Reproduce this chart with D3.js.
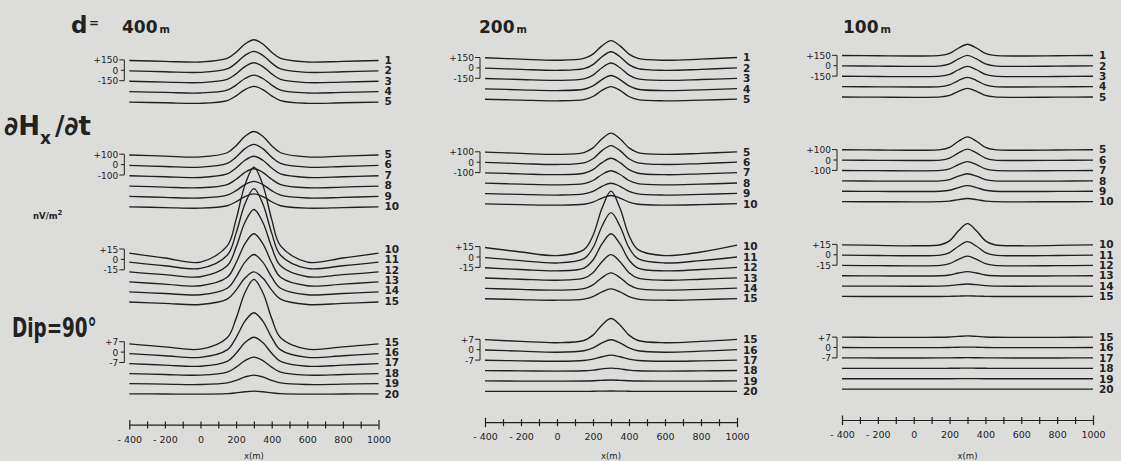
<!DOCTYPE html>
<html><head><meta charset="utf-8">
<script src="https://cdn.jsdelivr.net/npm/d3@7"></script>
<style>
html,body{margin:0;padding:0;background:#dcddda;}
svg{display:block;}
text{font-family:"DejaVu Sans","Liberation Sans",sans-serif;fill:#222;}
</style></head><body>
<svg id="chart" width="1121" height="461"></svg>
<script>
// ---------------- DATA ----------------
const xPositions = [-400, -200, 0, 150, 200, 250, 300, 350, 400, 450, 600, 800, 1000];
const panelDepths = ["400", "200", "100"];
const groupUnits = [150, 100, 15, 7];
const groupScaleLabels = [["+150", "0", "-150"], ["+100", "0", "-100"], ["+15", "0", "-15"], ["+7", "0", "-7"]];
const groupTraceNumbers = [[1, 2, 3, 4, 5], [5, 6, 7, 8, 9, 10], [10, 11, 12, 13, 14, 15], [15, 16, 17, 18, 19, 20]];
const xTickValues = [-400, -300, -200, -100, 0, 100, 200, 300, 400, 500, 600, 700, 800, 900, 1000];
const xTickLabels = [-400, -200, 0, 200, 400, 600, 800, 1000];

// dHx/dt (nV/m^2) for channels 1..20, sampled at xPositions
const traces400 = [
  [-9, -21, -30, 21, 110, 229, 290, 229, 110, 21, -30, -21, -9],
  [-9, -21, -30, 19, 103, 216, 274, 216, 103, 19, -30, -21, -9],
  [-8, -20, -28, 18, 98, 204, 259, 204, 98, 18, -28, -20, -8],
  [-8, -19, -27, 15, 87, 182, 231, 182, 87, 15, -27, -19, -8],
  [-8, -18, -26, 14, 82, 172, 218, 172, 82, 14, -26, -18, -8],
  [-8, -18, -25, 11, 72, 154, 195, 154, 72, 11, -25, -18, -8],
  [-7, -17, -24, 10, 67, 142, 180, 142, 67, 10, -24, -17, -7],
  [-7, -16, -23, 8, 59, 126, 160, 126, 59, 8, -23, -16, -7],
  [-6, -15, -21, 6, 50, 108, 138, 108, 50, 6, -21, -15, -6],
  [-6, -13, -19, 4.5, 42.7, 92.5, 118, 92.5, 42.7, 4.5, -19, -13, -6],
  [-3.9, -9.1, -13, 6, 37.9, 80.3, 102, 80.3, 37.9, 6, -13, -9.1, -3.9],
  [-3, -7, -10, 5.7, 32.7, 68.6, 87, 68.6, 32.7, 5.7, -10, -7, -3],
  [-2.4, -5.6, -8, 4.2, 25.1, 52.8, 67, 52.8, 25.1, 4.2, -8, -5.6, -2.4],
  [-1.8, -4.2, -6, 3.4, 19.5, 41, 52, 41, 19.5, 3.4, -6, -4.2, -1.8],
  [-1.5, -3.5, -5, 2.7, 15.7, 33.1, 42, 33.1, 15.7, 2.7, -5, -3.5, -1.5],
  [-1.05, -2.45, -3.5, 1.5, 9.8, 20.9, 26.5, 20.9, 9.8, 1.5, -3.5, -2.45, -1.05],
  [-0.75, -1.75, -2.5, 0.8, 6.2, 13.4, 17, 13.4, 6.2, 0.8, -2.5, -1.75, -0.75],
  [-0.45, -1.05, -1.5, 0.5, 3.9, 8.3, 10.6, 8.3, 3.9, 0.5, -1.5, -1.05, -0.45],
  [-0.24, -0.56, -0.8, 0.26, 2.0, 4.3, 5.5, 4.3, 2.0, 0.26, -0.8, -0.56, -0.24],
  [-0.09, -0.21, -0.3, 0.05, 0.6, 1.33, 1.7, 1.33, 0.6, 0.05, -0.3, -0.21, -0.09]
];
const traces200 = [
  [-4, -24, -40, -13, 49, 168, 243, 168, 49, -13, -40, -24, 0],
  [-3.5, -21, -35, -11, 48, 161, 233, 161, 48, -11, -35, -21, 0],
  [-3, -18, -30, -8, 46, 153, 220, 153, 46, -8, -30, -18, 0],
  [-2.7, -16, -27, -8, 40, 132, 191, 132, 40, -8, -27, -16, 0],
  [-2.5, -15, -25, -7, 37.5, 125, 180, 125, 37.5, -7, -25, -15, 0],
  [-2.2, -13, -22, -6, 33, 111, 160, 111, 33, -6, -22, -13, 0],
  [-2, -12, -20, -6, 28.5, 95.6, 138, 95.6, 28.5, -6, -20, -12, 0],
  [-1.8, -11, -18, -5.6, 24, 81.6, 118, 81.6, 24, -5.6, -18, -11, 0],
  [-1.6, -9.6, -16, -5.3, 19.7, 67.7, 98, 67.7, 19.7, -5.3, -16, -9.6, 0],
  [-1.3, -7.8, -13, -4.3, 16.1, 55.3, 80, 55.3, 16.1, -4.3, -13, -7.8, 2],
  [-0.9, -5.2, -8.6, -2.4, 13.4, 44.4, 64, 44.4, 13.4, -2.4, -8.6, -5.2, 0],
  [-0.5, -3, -5, -0.9, 10.7, 33.9, 48.6, 33.9, 10.7, -0.9, -5, -3, 0],
  [-0.35, -2.1, -3.5, -0.6, 7.3, 23.3, 33.4, 23.3, 7.3, -0.6, -3.5, -2.1, 0],
  [-0.28, -1.7, -2.8, -0.7, 4.7, 15.3, 22, 15.3, 4.7, -0.7, -2.8, -1.7, 0],
  [-0.23, -1.4, -2.3, -0.8, 2.8, 9.7, 14, 9.7, 2.8, -0.8, -2.3, -1.4, 0],
  [-0.17, -1, -1.7, -0.7, 1.2, 4.6, 6.7, 4.6, 1.2, -0.7, -1.7, -1, 0],
  [-0.08, -0.5, -0.8, -0.3, 0.6, 2.25, 3.3, 2.25, 0.6, -0.3, -0.8, -0.5, 0],
  [-0.04, -0.24, -0.4, -0.17, 0.28, 1.1, 1.6, 1.1, 0.28, -0.17, -0.4, -0.24, 0],
  [-0.02, -0.12, -0.2, -0.1, 0.09, 0.4, 0.6, 0.4, 0.09, -0.1, -0.2, -0.12, 0],
  [-0.01, -0.06, -0.1, -0.05, 0.02, 0.13, 0.2, 0.13, 0.02, -0.05, -0.1, -0.06, 0]
];
const traces100 = [
  [-3, -7, -10, -2, 27, 105, 160, 105, 27, -2, -10, -7, -3],
  [-2.7, -6.3, -9, -1.8, 25.8, 98, 150, 98, 25.8, -1.8, -9, -6.3, -2.7],
  [-2.4, -5.6, -8, -1.4, 24.2, 91.6, 140, 91.6, 24.2, -1.4, -8, -5.6, -2.4],
  [-2.1, -4.9, -7, -1, 23, 86.4, 132, 86.4, 23, -1, -7, -4.9, -2.1],
  [-1.8, -4.2, -6, -0.7, 21.4, 79.9, 122, 79.9, 21.4, -0.7, -6, -4.2, -1.8],
  [-1.5, -3.5, -5, -0.5, 18.5, 68.8, 105, 68.8, 18.5, -0.5, -5, -3.5, -1.5],
  [-1.2, -2.8, -4, -0.4, 15, 55.7, 85, 55.7, 15, -0.4, -4, -2.8, -1.2],
  [-1.05, -2.45, -3.5, -0.5, 11.9, 44.5, 68, 44.5, 11.9, -0.5, -3.5, -2.45, -1.05],
  [-0.9, -2.1, -3, -0.5, 9.4, 35.3, 54, 35.3, 9.4, -0.5, -3, -2.1, -0.9],
  [-0.6, -1.4, -2, -0.5, 5.1, 19.6, 30, 19.6, 5.1, -0.5, -2, -1.4, -0.6],
  [-0.42, -1, -1.4, -0.4, 3.2, 12.4, 19, 12.4, 3.2, -0.4, -1.4, -1, -0.42],
  [-0.3, -0.7, -1, -0.3, 2.2, 8.5, 13, 8.5, 2.2, -0.3, -1, -0.7, -0.3],
  [-0.18, -0.42, -0.6, -0.2, 0.9, 3.7, 5.7, 3.7, 0.9, -0.2, -0.6, -0.42, -0.18],
  [-0.09, -0.21, -0.3, -0.1, 0.46, 1.9, 2.9, 1.9, 0.46, -0.1, -0.3, -0.21, -0.09],
  [-0.06, -0.14, -0.2, -0.1, 0.1, 0.5, 0.8, 0.5, 0.1, -0.1, -0.2, -0.14, -0.06],
  [-0.03, -0.07, -0.1, -0.05, 0.03, 0.2, 0.3, 0.2, 0.03, -0.05, -0.1, -0.07, -0.03],
  [-0.02, -0.04, -0.05, -0.03, 0.01, 0.1, 0.15, 0.1, 0.01, -0.03, -0.05, -0.04, -0.02],
  [-0.01, -0.02, -0.03, -0.02, 0.01, 0.06, 0.1, 0.06, 0.01, -0.02, -0.03, -0.02, -0.01],
  [0, -0.01, -0.02, -0.01, 0, 0.03, 0.05, 0.03, 0, -0.01, -0.02, -0.01, 0],
  [0, 0, -0.01, 0, 0, 0.01, 0.02, 0.01, 0, 0, -0.01, 0, 0]
];

// ---------------- DRAWING ----------------
const INK = "#1f1f1f";
const svg = d3.select("#chart");
svg.append("rect").attr("width", 1121).attr("height", 461).attr("fill", "#dcddda");

const panels = [
  { depth: panelDepths[0], data: traces400, x0: 129.3, x1: 378.5, dy: 2.4 },
  { depth: panelDepths[1], data: traces200, x0: 485, x1: 737, dy: 0 },
  { depth: panelDepths[2], data: traces100, x0: 842, x1: 1093, dy: -2.2 }
];
const groupTop = [57.5, 151.8, 246.6, 339.3];
const spacing = 10.4;
const axisY = 422.7;

panels.forEach((p, pi) => {
  const g = svg.append("g");
  const xScale = d3.scaleLinear().domain([-400, 1000]).range([p.x0, p.x1]);

  groupTraceNumbers.forEach((nums, gi) => {
    const unit = groupUnits[gi];
    const top = groupTop[gi] + p.dy;
    const yScale = d3.scaleLinear().domain([0, -unit]).range([top, top + spacing]);
    nums.forEach((num, j) => {
      const vals = p.data[num - 1];
      const pts = xPositions.map((x, k) => ({ x: x, v: vals[k] - j * unit }));
      const line = d3.line().x(d => xScale(d.x)).y(d => yScale(d.v))
        .curve(d3.curveCatmullRom.alpha(0.5));
      g.append("path").attr("d", line(pts)).attr("fill", "none")
        .attr("stroke", INK).attr("stroke-width", 1.35);
      // channel number on right
      g.append("text").attr("x", p.x1 + 6).attr("y", yScale(-j * unit) + 3.8)
        .attr("font-size", 10.5).attr("font-weight", "bold").text(num);
    });
    // scale bracket
    const bx = p.x0 - 5;
    const y1 = yScale(0), y2 = yScale(-unit), y3 = yScale(-2 * unit);
    g.append("path")
      .attr("d", `M${bx - 5},${y1}H${bx}V${y3}H${bx - 5}M${bx - 3.5},${y2}H${bx}`)
      .attr("fill", "none").attr("stroke", INK).attr("stroke-width", 1);
    groupScaleLabels[gi].forEach((lab, k) => {
      g.append("text").attr("x", bx - 6).attr("y", [y1, y2, y3][k] + 3.5)
        .attr("text-anchor", "end").attr("font-size", 9).text(lab);
    });
  });

  // x axis
  const ay = axisY + p.dy;
  const axis = d3.axisBottom(xScale).tickValues(xTickValues).tickSizeOuter(0)
    .tickFormat(d => xTickLabels.includes(d) ? String(d).replace("-", "- ") : "");
  const ag = g.append("g").attr("transform", `translate(0,${ay})`).call(axis);
  ag.select(".domain").attr("d", `M${p.x0},0H${p.x1}`).attr("stroke", INK).attr("stroke-width", 1.2);
  ag.selectAll(".tick line").attr("y1", d => (d === -400 || d === 1000) ? -5 : -3.5)
    .attr("y2", d => (d === -400 || d === 1000) ? 4.5 : 3.5)
    .attr("stroke", INK).attr("stroke-width", 1.2);
  ag.selectAll(".tick text").attr("y", 11).attr("dy", "0.71em")
    .attr("font-size", 9.5).attr("font-family", "DejaVu Sans, sans-serif").attr("fill", INK);
  g.append("text").attr("x", xScale(300)).attr("y", 459).attr("text-anchor", "middle")
    .attr("font-size", 8.5).text("x(m)");
});

// titles
svg.append("text").attr("x", 71).attr("y", 33).attr("font-size", 23).attr("font-weight", "bold").text("d");
svg.append("text").attr("x", 89).attr("y", 27).attr("font-size", 12).attr("font-weight", "bold").text("=");
const depthX = [122, 479, 843];
panels.forEach((p, i) => {
  const t = svg.append("text").attr("x", depthX[i]).attr("y", 33).attr("font-weight", "bold");
  t.append("tspan").attr("font-size", 17).text(p.depth);
  t.append("tspan").attr("font-size", 10).attr("dx", 2).text("m");
});

// left side annotations (lettering)
const hx = svg.append("g").attr("transform", "translate(4,135) scale(1.0,1)");
const t1 = hx.append("text").attr("font-size", 26).attr("font-weight", "bold");
t1.append("tspan").text("∂H");
t1.append("tspan").attr("font-size", 17).attr("dy", 9).text("x");
t1.append("tspan").attr("dy", -9).attr("dx", 4).text("/∂t");

const t2 = svg.append("text").attr("x", 33).attr("y", 219).attr("font-size", 8.5).attr("font-weight", "bold");
t2.append("tspan").text("nV/m");
t2.append("tspan").attr("font-size", 7).attr("dy", -4).text("2");

svg.append("g").attr("transform", "translate(12,337) scale(0.68,1)")
  .append("text").attr("font-size", 27).attr("font-weight", "bold").text("Dip=90°");
</script>
</body></html>
